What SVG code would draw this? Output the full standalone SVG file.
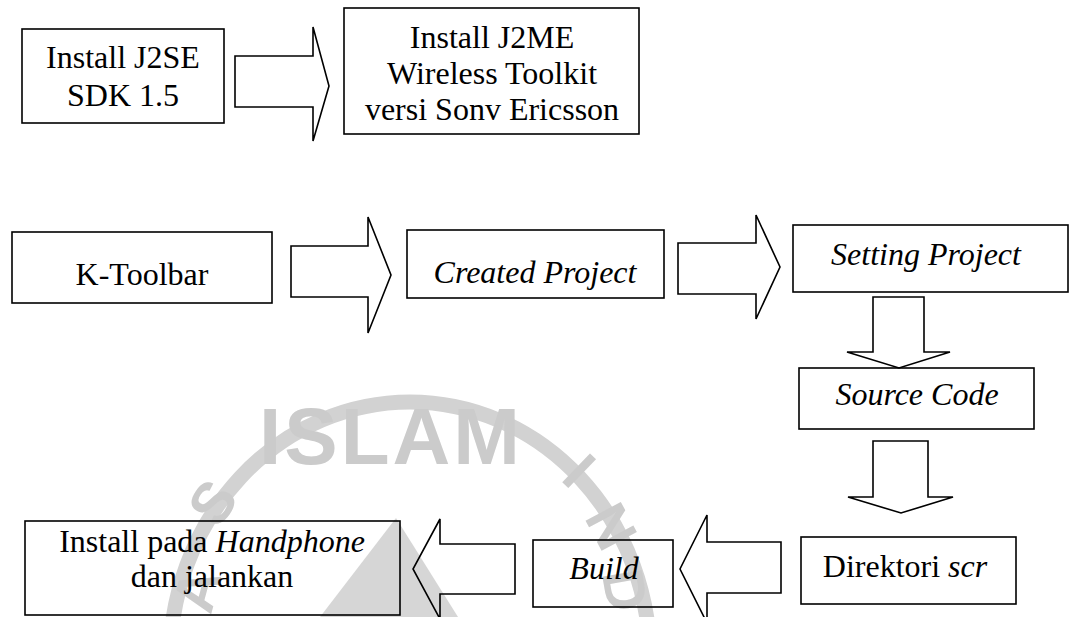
<svg xmlns="http://www.w3.org/2000/svg" width="1070" height="617" viewBox="0 0 1070 617">
<style>
.box{fill:none;stroke:#000;stroke-width:1.6}
.arr{fill:none;stroke:#000;stroke-width:1.6;stroke-linejoin:miter}
.t{font-family:"Liberation Serif","Times New Roman",serif;font-size:32px;fill:#000;text-anchor:middle}
.i{font-style:italic}
.wm{font-family:"Liberation Sans",Arial,sans-serif;fill:#cbcbcb;text-anchor:middle;font-weight:bold}
</style>
<rect width="1070" height="617" fill="#fff"/>
<g id="watermark">
<ellipse cx="410" cy="660" rx="240" ry="258" fill="none" stroke="#d2d2d2" stroke-width="15"/>
<polygon points="396,518 320,617 458,617" fill="#d6d6d6"/>
<text class="wm" x="391" y="464" font-size="80" letter-spacing="3">ISLAM</text>
<text class="wm" x="0" y="0" font-size="58" transform="translate(212,502) rotate(-55)" dy="21">S</text>
<text class="wm" x="0" y="0" font-size="58" transform="translate(196,590) rotate(-75)" dy="21">A</text>
<text class="wm" x="0" y="0" font-size="58" transform="translate(580,470) rotate(44)" dy="21">I</text>
<text class="wm" x="0" y="0" font-size="58" transform="translate(612,526) rotate(62)" dy="21">N</text>
<text class="wm" x="0" y="0" font-size="58" transform="translate(626,590) rotate(80)" dy="21">D</text>
</g>
<g id="connectors">
<polygon class="arr" points="235,56 313,56 313,27 329,86 313,141 313,107 235,107"/>
<polygon class="arr" points="291,246 368,246 368,217 391,275 368,333 368,297 291,297"/>
<polygon class="arr" points="678,243 756,243 756,215 780,267 756,319 756,294 678,294"/>
<polygon class="arr" points="873,297 924,297 924,352 950,352 899,368 847,352 873,352"/>
<polygon class="arr" points="873,441 928,441 928,497 953,497 901,513 848,497 873,497"/>
<polygon class="arr" points="781,542 707,542 707,515 680,569 707,623 707,593 781,593"/>
<polygon class="arr" points="515,544 440,544 440,519 413,569 440,619 440,594 515,594"/>
</g>
<g id="n1"><rect class="box" x="22" y="29" width="202" height="94"/>
<text class="t" x="123" y="68">Install J2SE</text><text class="t" x="123" y="106">SDK 1.5</text></g>
<g id="n2"><rect class="box" x="344" y="8" width="295" height="126"/>
<text class="t" x="492" y="48">Install J2ME</text><text class="t" x="492" y="84">Wireless Toolkit</text><text class="t" x="492" y="120">versi Sonv Ericsson</text></g>
<g id="n3"><rect class="box" x="12" y="232" width="260" height="71"/>
<text class="t" x="142" y="285">K-Toolbar</text></g>
<g id="n4"><rect class="box" x="407" y="230" width="257" height="68"/>
<text class="t i" x="535" y="283">Created Project</text></g>
<g id="n5"><rect class="box" x="793" y="225" width="275" height="67"/>
<text class="t i" x="926" y="265">Setting Project</text></g>
<g id="n6"><rect class="box" x="799" y="368" width="235" height="61"/>
<text class="t i" x="917" y="405">Source Code</text></g>
<g id="n7"><rect class="box" x="801" y="537" width="215" height="67"/>
<text class="t" x="905" y="577">Direktori <tspan class="i">scr</tspan></text></g>
<g id="n8"><rect class="box" x="533" y="540" width="140" height="67"/>
<text class="t i" x="604" y="579">Build</text></g>
<g id="n9"><rect class="box" x="25" y="521" width="375" height="94"/>
<text class="t" x="212" y="552">Install pada <tspan class="i">Handphone</tspan></text><text class="t" x="212" y="587">dan jalankan</text></g>
</svg>
